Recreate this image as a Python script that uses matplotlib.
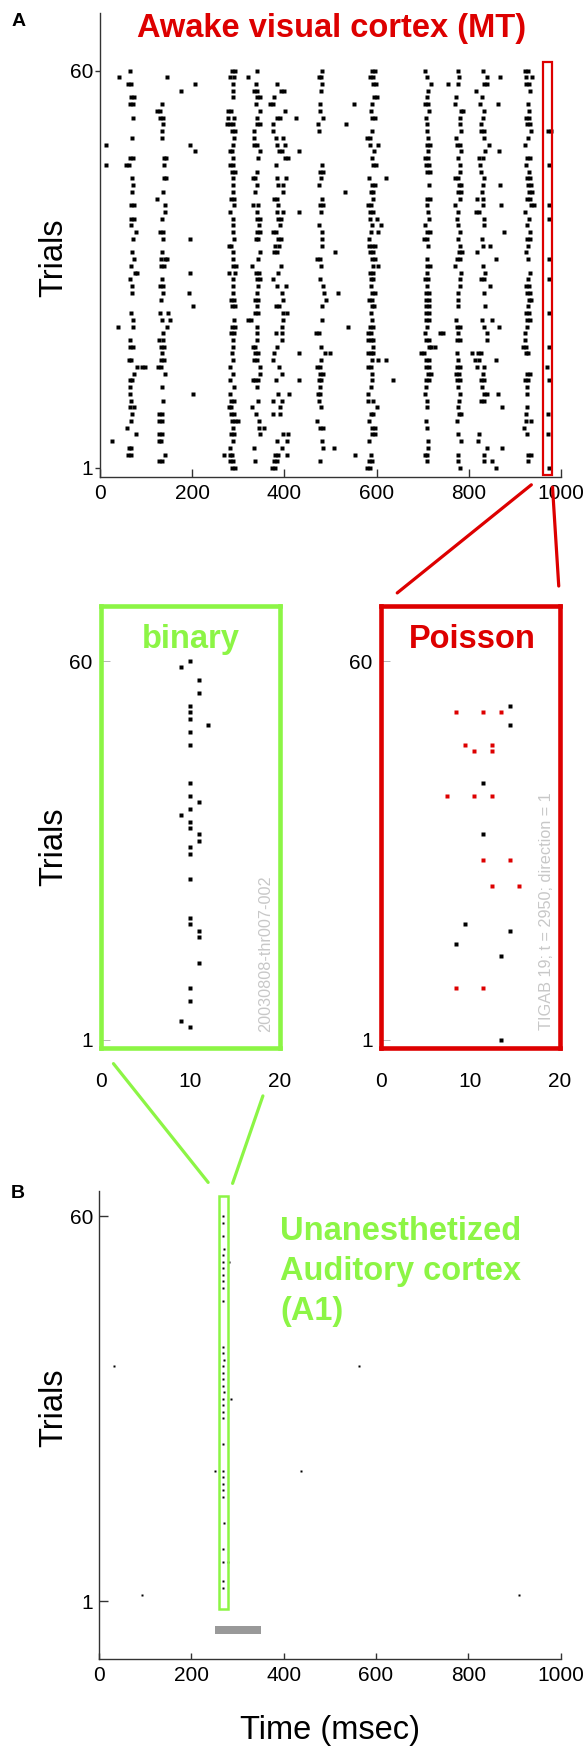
import matplotlib
matplotlib.use("Agg")
import matplotlib.pyplot as plt
from matplotlib.patches import Rectangle, ConnectionPatch

plt.rcParams["font.family"] = ["Liberation Sans", "DejaVu Sans"]

FIG_W, FIG_H = 586, 1746
RED = "#DD0000"
GREEN = "#8CF545"
AXIS_GRAY = "#333333"
NOTE_GRAY = "#C8C8C8"

# spike times (ms) per trial in awake MT, trial 1 first
mt_spikes = [
    [286, 292, 373, 379, 580, 586, 781, 860, 974],
    [129, 135, 283, 289, 336, 377, 383, 477, 584, 590, 710, 777, 832, 851, 929],
    [61, 67, 140, 269, 281, 287, 380, 386, 405, 553, 587, 704, 710, 777, 832, 929, 935],
    [62, 68, 282, 334, 394, 483, 508, 712, 839, 871],
    [25, 127, 133, 289, 385, 405, 481, 584, 712, 782, 821],
    [78, 129, 135, 285, 291, 346, 396, 407, 590, 596, 777, 822, 926, 972],
    [58, 289, 345, 356, 478, 484, 590, 596, 709, 920],
    [67, 129, 135, 287, 293, 299, 345, 471, 584, 707, 775, 925, 935],
    [69, 129, 135, 284, 290, 338, 376, 390, 587, 593, 778, 784, 925, 972],
    [64, 74, 279, 285, 329, 390, 479, 600, 709, 777, 871, 926],
    [67, 137, 284, 290, 343, 376, 394, 475, 582, 592, 710, 778, 826, 832],
    [65, 201, 282, 387, 409, 472, 478, 581, 705, 781, 833, 840, 864, 926],
    [65, 135, 291, 340, 477, 588, 707, 777, 828, 926],
    [64, 70, 282, 331, 337, 343, 381, 431, 474, 480, 591, 635, 707, 713, 775, 781, 826, 832, 922, 928, 975],
    [74, 141, 289, 346, 394, 478, 484, 589, 712, 719, 772, 778, 830, 927, 933],
    [81, 91, 97, 126, 132, 282, 346, 389, 471, 477, 582, 588, 707, 713, 775, 781, 817, 832, 970],
    [62, 68, 133, 139, 288, 335, 341, 376, 479, 589, 604, 620, 707, 713, 777, 813, 822, 859],
    [135, 287, 336, 342, 377, 432, 488, 499, 582, 588, 593, 696, 702, 774, 806, 820, 826, 923, 929],
    [66, 72, 133, 139, 289, 331, 337, 383, 479, 593, 713, 719, 727, 918, 924, 973],
    [65, 129, 137, 289, 341, 394, 582, 588, 593, 708, 714, 775, 781, 839, 922],
    [137, 284, 290, 340, 382, 394, 468, 474, 581, 587, 705, 737, 745, 777, 839, 922],
    [38, 71, 145, 286, 292, 341, 394, 539, 586, 592, 709, 775, 781, 833, 866, 926],
    [71, 134, 152, 291, 322, 328, 396, 481, 589, 707, 713, 772, 828, 850, 927, 933],
    [67, 130, 148, 336, 342, 396, 405, 587, 707, 713, 925, 931, 975],
    [201, 286, 292, 340, 382, 388, 481, 589, 595, 708, 714, 777, 835, 929],
    [132, 284, 290, 336, 342, 396, 490, 583, 589, 707, 713, 777, 930, 936],
    [69, 136, 192, 289, 341, 394, 486, 517, 591, 597, 707, 713, 777, 833, 927, 933],
    [69, 131, 137, 289, 342, 385, 403, 483, 588, 709, 781, 845, 925, 931],
    [64, 134, 288, 340, 346, 376, 477, 587, 593, 706, 712, 781, 826, 832, 928, 974],
    [75, 81, 195, 279, 293, 338, 344, 387, 586, 592, 709, 783, 835, 933],
    [67, 133, 139, 288, 294, 330, 393, 479, 593, 602, 710, 716, 770, 830],
    [74, 132, 140, 146, 289, 343, 471, 477, 590, 596, 710, 775, 781, 860, 928, 974],
    [69, 134, 289, 346, 377, 383, 510, 585, 592, 779, 785, 817, 924],
    [279, 285, 380, 389, 481, 584, 590, 597, 711, 780, 830, 845, 929],
    [71, 136, 195, 291, 338, 343, 386, 392, 481, 584, 703, 709, 777, 829, 926, 932],
    [78, 131, 137, 289, 340, 346, 376, 382, 481, 588, 602, 710, 716, 781, 877, 933],
    [67, 289, 345, 390, 474, 591, 609, 705, 777, 832, 926],
    [68, 74, 134, 289, 340, 346, 386, 392, 586, 600, 714, 775, 832, 931, 973],
    [142, 282, 340, 385, 396, 431, 479, 586, 592, 711, 777, 816, 822, 922],
    [68, 74, 140, 291, 331, 342, 387, 478, 484, 582, 588, 709, 769, 830, 870, 936, 942, 974],
    [124, 285, 291, 378, 385, 481, 593, 709, 715, 781, 817, 830, 926, 932],
    [69, 137, 289, 336, 396, 531, 587, 593, 776, 782, 829, 931, 938],
    [72, 288, 340, 387, 396, 476, 591, 597, 714, 778, 784, 830, 868, 929, 935],
    [69, 138, 144, 288, 331, 337, 383, 403, 479, 584, 620, 770, 776, 833, 927, 933],
    [286, 292, 340, 478, 484, 709, 715, 781, 826, 931],
    [12, 56, 62, 139, 283, 289, 382, 481, 592, 598, 707, 713, 780, 824, 924, 974],
    [66, 72, 138, 144, 288, 343, 401, 407, 589, 706, 712, 776, 822, 830, 926, 932],
    [205, 281, 287, 346, 388, 394, 431, 595, 712, 783, 835, 866],
    [14, 196, 289, 335, 341, 383, 401, 586, 602, 709, 715, 775, 781, 843, 922],
    [69, 134, 291, 334, 382, 396, 580, 586, 712, 772, 833, 928],
    [134, 286, 292, 334, 376, 475, 591, 709, 783, 826, 832, 936, 972, 978],
    [137, 276, 282, 288, 340, 346, 376, 472, 534, 709, 781, 826, 927, 933],
    [72, 131, 137, 278, 291, 340, 385, 391, 425, 484, 590, 596, 707, 781, 830, 925, 931],
    [124, 130, 278, 284, 347, 401, 477, 587, 714, 782, 788, 833, 931],
    [66, 72, 134, 338, 369, 375, 477, 550, 589, 705, 711, 769, 824, 864, 929],
    [68, 74, 288, 340, 346, 377, 595, 601, 709, 772, 829],
    [176, 288, 334, 340, 393, 399, 479, 712, 816, 933],
    [61, 67, 206, 288, 338, 383, 481, 593, 599, 719, 754, 777, 834, 840, 925, 931],
    [42, 145, 283, 290, 322, 474, 480, 586, 592, 709, 779, 840, 868, 925, 938],
    [64, 286, 293, 340, 481, 591, 597, 705, 777, 830, 922, 929],
]
mt_window = (961, 980)

# 20 ms zoom of the A1 response, 1 ms bins
binary_trials = [60, 59, 57, 55, 53, 52, 51, 50, 49, 47, 41, 39, 38, 37, 36, 35, 34,
                 33, 32, 31, 30, 26, 20, 19, 18, 17, 13, 9, 7, 4, 3]
binary_times = [10, 9, 11, 11, 10, 10, 10, 12, 10, 10, 10, 10, 11, 10, 9, 10, 10,
                11, 11, 10, 10, 10, 10, 10, 11, 11, 11, 10, 10, 9, 10]

# 20 ms zoom of MT: recorded spikes and Poisson-drawn spikes
poisson_trials = [53, 50, 41, 33, 19, 18, 16, 14, 1]
poisson_times = [14.4, 14.4, 11.4, 11.4, 9.4, 14.4, 8.4, 13.4, 13.4]
poisson_sim_trials = [52, 52, 52, 47, 47, 46, 46, 39, 39, 39, 29, 29, 25, 25, 9, 9]
poisson_sim_times = [8.4, 11.4, 13.4, 9.4, 12.4, 10.4, 12.4, 7.4, 10.4, 12.4,
                     11.4, 14.4, 12.4, 15.4, 8.4, 11.4]

# unanesthetized A1 raster
a1_trials = [60, 59, 57, 55, 54, 53, 53, 52, 51, 50, 49, 47, 40, 39, 38, 37, 36, 35,
             34, 33, 32, 32, 31, 30, 29, 25, 21, 20, 19, 18, 17, 13, 9, 7, 7, 4, 3,
             37, 37, 21, 21, 2, 2]
a1_times = [268, 268, 269, 270, 269, 268, 281, 268, 269, 268, 268, 268, 268, 269, 270,
            269, 268, 269, 268, 270, 268, 287, 269, 268, 269, 268, 268, 269, 268, 269,
            269, 270, 268, 268, 279, 268, 268,
            32, 563, 251, 437, 93, 911]
a1_window = (260, 280)
stim_on, stim_off = 251, 351


def px_axes(fig, left, top, right, bottom):
    """Add axes placed by pixel edges (origin top-left)."""
    return fig.add_axes([left / FIG_W, 1 - bottom / FIG_H,
                         (right - left) / FIG_W, (bottom - top) / FIG_H])


def fig_text(fig, x, y, s, **kw):
    fig.text(x / FIG_W, 1 - y / FIG_H, s, **kw)


def raster_xy(rows):
    xs, ys = [], []
    for trial, times in enumerate(rows, start=1):
        xs.extend(times)
        ys.extend([trial] * len(times))
    return xs, ys


def style_open_axes(ax):
    for side in ("top", "right"):
        ax.spines[side].set_visible(False)
    for side in ("left", "bottom"):
        ax.spines[side].set_color(AXIS_GRAY)
        ax.spines[side].set_linewidth(1.0)


def setup_zoom(ax, color):
    ax.set_xlim(0, 20)
    ax.set_ylim(-0.28, 68.58)
    ax.set_xticks([0, 10, 20])
    ax.set_yticks([1, 60])
    for sp in ax.spines.values():
        sp.set_color(color)
        sp.set_linewidth(3.3)
        sp.set_zorder(4)
    ax.tick_params(axis="x", length=0, labelsize=15, pad=17)
    ax.tick_params(axis="y", direction="in", length=6.5, width=0.5, color="#999999",
                   labelsize=15, pad=6)


def draw_mt(fig):
    ax = px_axes(fig, 100, 12.7, 561, 476.6)
    xs, ys = raster_xy(mt_spikes)
    ax.plot(xs, ys, "s", ms=2.4, color="k", mec="none")
    ax.set_xlim(0, 1000)
    ax.set_ylim(-0.28, 68.58)
    ax.set_xticks(range(0, 1001, 200))
    ax.set_yticks([1, 60])
    style_open_axes(ax)
    ax.tick_params(axis="x", direction="in", length=5.5, width=1, color=AXIS_GRAY,
                   labelsize=15, pad=5.5)
    ax.tick_params(axis="y", direction="out", length=3.6, width=1, color=AXIS_GRAY,
                   labelsize=15, pad=1.5)
    ax.add_patch(Rectangle((mt_window[0], -0.1), mt_window[1] - mt_window[0], 61.4,
                           fill=False, ec=RED, lw=1.6, zorder=3))
    return ax


def draw_binary(fig):
    ax = px_axes(fig, 101, 606, 279.5, 1048)
    ax.plot(binary_times, binary_trials, "s", ms=2.6, color="k", mec="none")
    setup_zoom(ax, GREEN)
    fig_text(fig, 191, 648, "binary", color=GREEN, fontsize=23.5, fontweight="bold",
             ha="center", va="baseline")
    ax.text(0.92, 0.036, "20030808-thr007-002", transform=ax.transAxes, rotation=90,
            ha="center", va="bottom", fontsize=11.7, color=NOTE_GRAY)
    return ax


def draw_poisson(fig):
    ax = px_axes(fig, 381, 606, 560, 1048)
    ax.plot(poisson_sim_times, poisson_sim_trials, "s", ms=2.6, color=RED, mec="none")
    ax.plot(poisson_times, poisson_trials, "s", ms=2.6, color="k", mec="none")
    setup_zoom(ax, RED)
    fig_text(fig, 472, 648, "Poisson", color=RED, fontsize=23.5, fontweight="bold",
             ha="center", va="baseline")
    ax.text(0.926, 0.04, "TIGAB 19; t = 2950; direction = 1", transform=ax.transAxes,
            rotation=90, ha="center", va="bottom", fontsize=11.7, color=NOTE_GRAY)
    return ax


def draw_a1(fig):
    ax = px_axes(fig, 99, 1190.7, 560.5, 1659.3)
    ax.plot(a1_times, a1_trials, "s", ms=2.1, color="k", mec="none")
    ax.barh(-3.44, stim_off - stim_on, left=stim_on, height=1.27, color="#999999")
    ax.set_xlim(0, 1000)
    ax.set_ylim(-7.93, 63.88)
    ax.set_xticks(range(0, 1001, 200))
    ax.set_yticks([1, 60])
    style_open_axes(ax)
    ax.tick_params(axis="x", direction="in", length=4.3, width=1, color=AXIS_GRAY,
                   labelsize=15, pad=5)
    ax.tick_params(axis="y", direction="in", length=6.5, width=1, color=AXIS_GRAY,
                   labelsize=15, pad=4)
    ax.add_patch(Rectangle((a1_window[0], -0.27), a1_window[1] - a1_window[0], 63.34,
                           fill=False, ec=GREEN, lw=1.8, zorder=3))
    return ax


def main():
    fig = plt.figure(figsize=(FIG_W / 100, FIG_H / 100), dpi=100)

    ax_mt = draw_mt(fig)
    ax_bin = draw_binary(fig)
    ax_poi = draw_poisson(fig)
    ax_a1 = draw_a1(fig)

    # zoom connectors
    for xa, xb, sa, sb in [(mt_window[0], 0, 10.8, 15), (mt_window[1], 1, 8.5, 14.4)]:
        fig.add_artist(ConnectionPatch(xyA=(xa, -0.1), coordsA=ax_mt.transData,
                                       xyB=(xb, 1), coordsB=ax_poi.transAxes,
                                       color=RED, lw=2.3, shrinkA=sa, shrinkB=sb))
    for xa, xb, sa, sb in [(0, a1_window[0], 14.4, 12.5), (1, a1_window[1], 36.5, 9.6)]:
        fig.add_artist(ConnectionPatch(xyA=(xa, 0), coordsA=ax_bin.transAxes,
                                       xyB=(xb, 63.07), coordsB=ax_a1.transData,
                                       color=GREEN, lw=2.3, shrinkA=sa, shrinkB=sb))

    fig_text(fig, 332, 37, "Awake visual cortex (MT)", color=RED, fontsize=23.5,
             fontweight="bold", ha="center", va="baseline")
    fig_text(fig, 19, 22, "A", fontsize=14, fontweight="bold", ha="center", va="center")
    fig_text(fig, 18, 1193, "B", fontsize=14, fontweight="bold", ha="center", va="center")
    for y, line in [(1240, "Unanesthetized"), (1280, "Auditory cortex"), (1320, "(A1)")]:
        fig_text(fig, 280, y, line, color=GREEN, fontsize=23.5, fontweight="bold",
                 ha="left", va="baseline")

    for y in (258, 847, 1408):
        fig_text(fig, 54, y, "Trials", fontsize=23.5, rotation=90, ha="center", va="center")
    fig_text(fig, 330, 1730, "Time (msec)", fontsize=23.5, ha="center", va="center")

    fig.savefig("out.png", dpi=100)


if __name__ == "__main__":
    main()
